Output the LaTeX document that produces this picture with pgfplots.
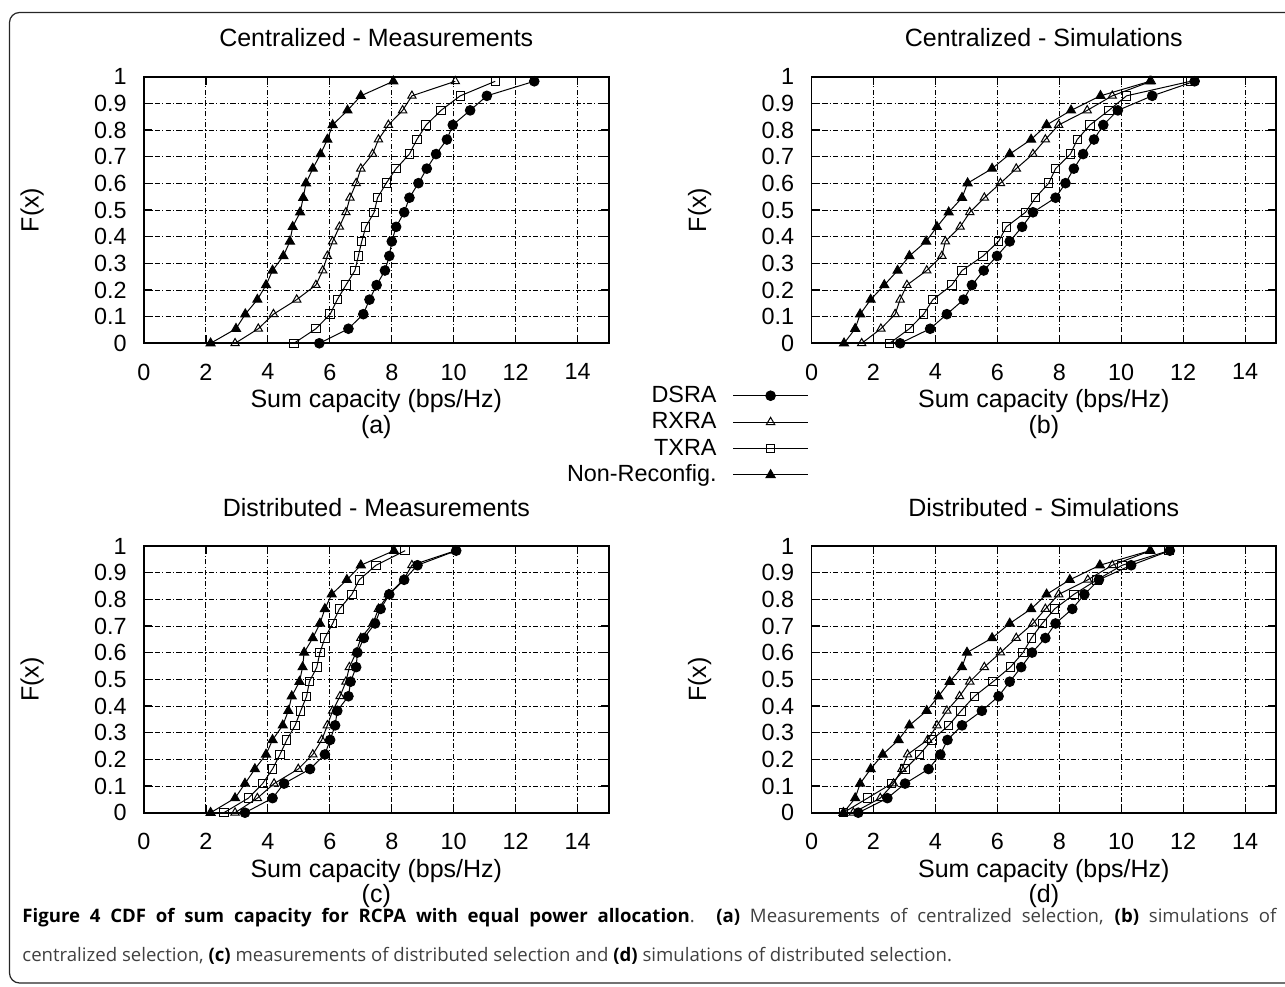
\documentclass[border=0pt]{standalone}
\usepackage{pgfplots}
\usepackage{pgfplotstable}
\pgfplotsset{compat=1.18}
\usepackage{fontspec}
\setmainfont{Liberation Sans}
\newfontfamily\capfont{Open Sans}

% F values shared by all curves, x = sum capacity (bps/Hz)
\pgfplotstableread{
F      dsra  rxra  txra  nr
0      5.66  2.94  4.84  2.15
0.0546 6.60  3.69  5.55  2.97
0.1092 7.08  4.18  6.01  3.27
0.1638 7.28  4.93  6.24  3.66
0.2184 7.51  5.55  6.52  3.94
0.2730 7.78  5.77  6.81  4.15
0.3276 7.92  5.92  6.92  4.50
0.3822 8.00  6.09  7.03  4.71
0.4368 8.14  6.31  7.16  4.80
0.4914 8.40  6.52  7.43  5.04
0.5460 8.57  6.65  7.54  5.14
0.6006 8.86  6.85  7.82  5.23
0.6552 9.13  7.00  8.14  5.45
0.7098 9.43  7.38  8.57  5.70
0.7644 9.78  7.57  8.81  5.92
0.8190 9.97  7.89  9.11  6.09
0.8736 10.53 8.35  9.59  6.57
0.9282 11.07 8.65  10.21 7.00
0.9828 12.60 10.05 11.34 8.05
}\cenmeas

\pgfplotstableread{
F      dsra  rxra  txra  nr
0      2.86  1.62  2.52  1.05
0.0546 3.83  2.24  3.16  1.41
0.1092 4.37  2.70  3.62  1.57
0.1638 4.91  2.86  3.92  1.91
0.2184 5.18  3.08  4.53  2.35
0.2730 5.56  3.72  4.86  2.78
0.3276 5.99  4.21  5.54  3.16
0.3822 6.40  4.32  6.04  3.70
0.4368 6.80  4.80  6.29  4.05
0.4914 7.15  5.11  6.91  4.43
0.5460 7.88  5.58  7.23  4.86
0.6006 8.20  6.10  7.66  5.04
0.6552 8.47  6.61  7.88  5.83
0.7098 8.77  7.15  8.36  6.40
0.7644 9.12  7.55  8.58  7.09
0.8190 9.42  7.98  8.99  7.59
0.8736 9.89  8.90  9.60  8.38
0.9282 11.00 9.71  10.17 9.33
0.9828 12.37 10.97 12.24 10.93
}\censim

\pgfplotstableread{
F      dsra  rxra  txra  nr
0      3.26  2.94  2.58  2.15
0.0546 4.15  3.66  3.37  2.94
0.1092 4.52  4.20  3.83  3.26
0.1638 5.36  4.98  4.15  3.58
0.2184 5.84  5.45  4.39  3.94
0.2730 6.01  5.74  4.61  4.15
0.3276 6.17  5.92  4.88  4.48
0.3822 6.24  6.09  5.06  4.66
0.4368 6.60  6.33  5.25  4.77
0.4914 6.67  6.52  5.34  5.02
0.5460 6.85  6.63  5.58  5.12
0.6006 6.89  6.85  5.68  5.17
0.6552 7.10  7.00  5.84  5.45
0.7098 7.46  7.39  6.09  5.68
0.7644 7.64  7.57  6.31  5.84
0.8190 7.92  7.89  6.71  6.06
0.8736 8.40  8.38  6.95  6.55
0.9282 8.83  8.65  7.49  7.00
0.9828 10.08 10.05 8.43  8.07
}\dismeas

\pgfplotstableread{
F      dsra  rxra  txra  nr
0      1.51  1.35  1.03  1.03
0.0546 2.45  2.22  1.81  1.41
0.1092 3.02  2.65  2.59  1.57
0.1638 3.78  2.92  3.02  1.91
0.2184 4.16  3.10  3.49  2.30
0.2730 4.39  3.75  3.89  2.81
0.3276 4.86  4.05  4.43  3.16
0.3822 5.50  4.37  4.83  3.72
0.4368 6.04  4.78  5.26  4.10
0.4914 6.40  5.11  5.86  4.46
0.5460 6.77  5.58  6.42  4.86
0.6006 7.12  6.10  6.83  5.02
0.6552 7.55  6.61  7.10  5.83
0.7098 7.88  7.15  7.45  6.40
0.7644 8.42  7.55  7.85  7.09
0.8190 8.81  7.98  8.47  7.59
0.8736 9.28  8.92  9.22  8.34
0.9282 10.32 9.71  10.03 9.31
0.9828 11.57 10.95 11.54 10.93
}\dissim

\pgfplotsset{
  cdf/.style={
    scale only axis, width=232.3pt, height=133.3pt,
    xmin=0, xmax=15, ymin=0, ymax=1,
    xtick={0,2,4,6,8,10,12,14},
    ytick={0,0.1,0.2,0.3,0.4,0.5,0.6,0.7,0.8,0.9,1},
    grid=major,
    major grid style={black, line width=0.45pt,
      dash pattern=on 2.6pt off 1.1pt on 0.6pt off 1.1pt},
    axis line style={line width=0.9pt},
    major tick length=4pt,
    tick style={black, line width=0.6pt},
    /pgf/number format/assume math mode=true,
    tick label style={font=\fontsize{11.7}{12}\selectfont},
    xticklabel style={inner sep=0pt, yshift=-10pt},
    yticklabel style={inner sep=0pt, xshift=-8.5pt},
    title style={at={(axis description cs:0.5,1)}, anchor=base,
      yshift=9pt, inner sep=0pt, font=\fontsize{12.5}{14}\selectfont},
    xlabel style={at={(axis description cs:0.5,0)}, anchor=north,
      yshift=-23pt, inner sep=0pt, align=center,
      font=\fontsize{12.5}{10.5}\selectfont},
    ylabel style={at={(axis description cs:-0.241,0.5)}, anchor=center,
      inner sep=0pt, font=\fontsize{12.5}{14}\selectfont},
    ylabel={F(x)},
  },
  dsra/.style={black, line width=0.5pt, mark=*, mark size=2.4pt,
    mark options={solid, fill=black}},
  rxra/.style={black, line width=0.5pt, mark=triangle, mark size=2.4pt,
    mark options={solid, fill=white}},
  txra/.style={black, line width=0.5pt, mark=square, mark size=2.1pt,
    mark options={solid, fill=white}},
  nr/.style={black, line width=0.5pt, mark=triangle*, mark size=2.6pt,
    mark options={solid, fill=black}},
}

\newcommand\fourcurves[1]{%
  \addplot[dsra] table[x=dsra, y=F] {#1};
  \addplot[rxra] table[x=rxra, y=F] {#1};
  \addplot[txra] table[x=txra, y=F] {#1};
  \addplot[nr]   table[x=nr,   y=F] {#1};
}

\begin{document}
\begin{tikzpicture}
\useasboundingbox (0,0) rectangle (642.5pt,493pt);
\draw[line width=0.6pt, black!85, rounded corners=5pt]
  (643pt,486.75pt) -- (4.75pt,486.75pt) -- (4.75pt,1.5pt) -- (643pt,1.5pt);

\begin{axis}[cdf, at={(72pt,321.35pt)}, anchor=south west,
  title={Centralized - Measurements},
  xlabel={Sum capacity (bps/Hz)\\(a)},
  legend plot pos=right, legend cell align=right,
  legend style={at={(axis description cs:1.4313,-0.152)}, anchor=north east,
    draw=none, fill=none, inner sep=0pt, column sep=8pt, row sep=1.7pt,
    font=\fontsize{11.7}{12}\selectfont,
    nodes={inner sep=0pt, text height=9pt, text depth=2.5pt}},
  legend image code/.code={%
    \draw[mark repeat=2, mark phase=2, #1]
      plot coordinates {(0pt,0pt) (18.75pt,0pt) (37.5pt,0pt)};},
]
\fourcurves{\cenmeas}
\legend{DSRA, RXRA, TXRA, Non-Reconfig.}
\end{axis}

\begin{axis}[cdf, at={(405.75pt,321.35pt)}, anchor=south west,
  title={Centralized - Simulations},
  xlabel={Sum capacity (bps/Hz)\\(b)}]
\fourcurves{\censim}
\end{axis}

\begin{axis}[cdf, at={(72pt,86.65pt)}, anchor=south west,
  title={Distributed - Measurements},
  xlabel={Sum capacity (bps/Hz)\\(c)}]
\fourcurves{\dismeas}
\end{axis}

\begin{axis}[cdf, at={(405.75pt,86.65pt)}, anchor=south west,
  title={Distributed - Simulations},
  xlabel={Sum capacity (bps/Hz)\\(d)}]
\fourcurves{\dissim}
\end{axis}

\node[anchor=base west, inner sep=0pt, text=black!75,
  font=\capfont\fontsize{9.3}{11}\selectfont] at (11pt,32pt)
  {\makebox[627pt][s]{\textcolor{black}{\bfseries Figure 4 CDF of sum capacity for RCPA with equal power allocation}. \textcolor{black}{\bfseries (a)} Measurements of centralized selection, \textcolor{black}{\bfseries (b)} simulations of}};
\node[anchor=base west, inner sep=0pt, text=black!75,
  font=\capfont\fontsize{9.3}{11}\selectfont] at (11pt,12.5pt)
  {centralized selection, \textcolor{black}{\bfseries (c)} measurements of distributed selection and \textcolor{black}{\bfseries (d)} simulations of distributed selection.};
\end{tikzpicture}
\end{document}
